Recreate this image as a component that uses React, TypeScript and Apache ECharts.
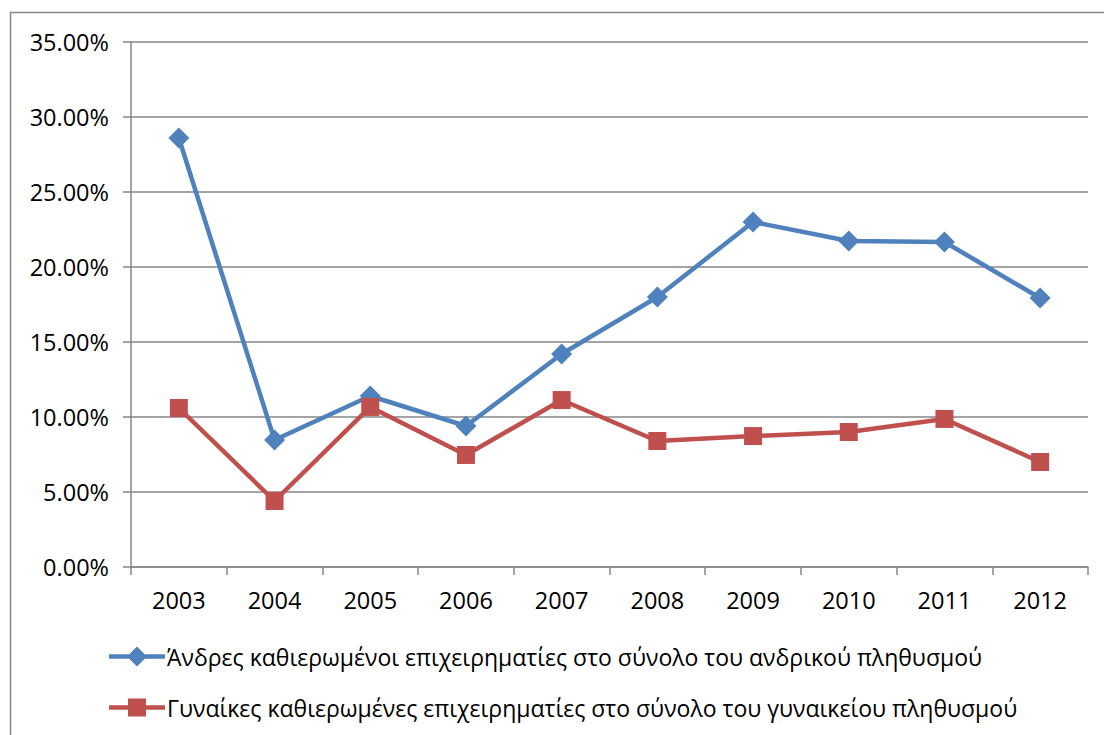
import React, { useEffect, useRef } from "react";
import * as echarts from "echarts";

const years = ["2003", "2004", "2005", "2006", "2007", "2008", "2009", "2010", "2011", "2012"];
const menName = "Άνδρες καθιερωμένοι επιχειρηματίες στο σύνολο του ανδρικού πληθυσμού";
const womenName = "Γυναίκες καθιερωμένες επιχειρηματίες στο σύνολο του γυναικείου πληθυσμού";
const menValues = [0.286, 0.0847, 0.114, 0.094, 0.142, 0.18, 0.23, 0.2173, 0.2167, 0.1793];
const womenValues = [0.106, 0.044, 0.1067, 0.0747, 0.1113, 0.084, 0.0873, 0.09, 0.0987, 0.07];

const FONT = "'Open Sans', 'Noto Sans', sans-serif";
const diamondIcon = "path://M0,7.8L56,7.8L56,12.2L0,12.2Z M28,0L38,10L28,20L18,10Z";
const squareIcon = "path://M0,7.8L56,7.8L56,12.2L0,12.2Z M19,1L37,1L37,19L19,19Z";

export default function App() {
  const ref = useRef<HTMLDivElement>(null);
  useEffect(() => {
    if (!ref.current) return;
    const chart = echarts.init(ref.current, null, { renderer: "svg" });
    chart.setOption({
      animation: false,
      backgroundColor: "#ffffff",
      graphic: [
        {
          type: "rect",
          shape: { x: 10.5, y: 12.5, width: 1100, height: 730 },
          style: { fill: "none", stroke: "#868686", lineWidth: 1.5 },
          silent: true,
        },
      ],
      grid: { left: 131, right: 16, top: 42, bottom: 168, containLabel: false },
      xAxis: {
        type: "category",
        data: years,
        boundaryGap: true,
        axisLine: { show: true, lineStyle: { color: "#868686", width: 1.5 } },
        axisTick: { show: true, length: 8, inside: false, lineStyle: { color: "#868686", width: 1.5 } },
        axisLabel: { color: "#000", fontSize: 23.5, fontFamily: FONT, margin: 21 },
        splitLine: { show: false },
      },
      yAxis: {
        type: "value",
        min: 0,
        max: 0.35,
        interval: 0.05,
        axisLine: { show: true, lineStyle: { color: "#868686", width: 1.5 } },
        axisTick: { show: true, length: 8, inside: false, lineStyle: { color: "#868686", width: 1.5 } },
        axisLabel: {
          color: "#000",
          fontSize: 23.5,
          fontFamily: FONT,
          margin: 22,
          formatter: (v: number) => (v * 100).toFixed(2) + "%",
        },
        splitLine: { show: true, lineStyle: { color: "#868686", width: 1.5 } },
      },
      legend: {
        orient: "vertical",
        left: 104,
        top: 640,
        itemWidth: 56,
        itemHeight: 20,
        itemGap: 28,
        textStyle: { color: "#000", fontSize: 23, fontFamily: FONT, padding: [0, 0, 0, -3] },
        data: [
          { name: menName, icon: diamondIcon },
          { name: womenName, icon: squareIcon },
        ],
      },
      series: [
        {
          name: menName,
          type: "line",
          data: menValues,
          symbol: "diamond",
          symbolSize: 21,
          lineStyle: { color: "#4F81BD", width: 4.5 },
          itemStyle: { color: "#4F81BD" },
        },
        {
          name: womenName,
          type: "line",
          data: womenValues,
          symbol: "rect",
          symbolSize: 18,
          lineStyle: { color: "#C0504D", width: 4.5 },
          itemStyle: { color: "#C0504D" },
        },
      ],
    });
    return () => chart.dispose();
  }, []);
  return (
    <div
      ref={ref}
      style={{ position: "fixed", left: 0, top: 0, width: 1104, height: 735, background: "#fff" }}
    />
  );
}
